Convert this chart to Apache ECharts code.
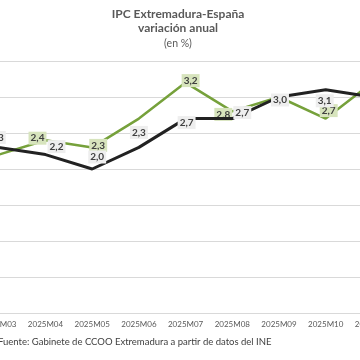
<!DOCTYPE html>
<html>
<head>
<meta charset="utf-8">
<script src="https://cdn.jsdelivr.net/npm/echarts@6/dist/echarts.min.js"></script>
<style>
html,body{margin:0;padding:0;background:#fff;}
#wrap{position:relative;width:360px;height:360px;overflow:hidden;background:#fff;}
#chart{position:absolute;left:-40px;top:0;width:500px;height:360px;}
</style>
</head>
<body>
<div id="wrap"><div id="chart"></div></div>
<script>
// Data
const categories = ['2025M03','2025M04','2025M05','2025M06','2025M07','2025M08','2025M09','2025M10','2025M11'];
const espana      = [2.3, 2.2, 2.0, 2.3, 2.7, 2.7, 3.0, 3.1, 3.0];
const extremadura = [2.2, 2.4, 2.3, 2.7, 3.2, 2.8, 3.0, 2.7, 3.2];
const yTicks = [0, 0.5, 1, 1.5, 2, 2.5, 3, 3.5];

// label styling (offsets per point, in px; null = no label)
const espanaLabelOffsets = [[-2,-10],[11,-8],[5,-12],[0,-15],[1,4],[10,-6],[1,3],[-1,11],[0,-10]];
const extLabelOffsets    = [null,[-8,-2],[6,-2],null,[5,-2],[-9,3],null,[3,-8],[0,-2]];

const OFF = 40;           // chart div shifted left by this many px
const STEP = 46.7;        // category width
const firstCenter = -1.2; // visible x of first category
const gridLeft = OFF + firstCenter - STEP/2;

function fmt(v){ return v.toFixed(1).replace('.', ','); }

function buildData(vals, offsets){
  return vals.map((v,i)=>{
    const o = offsets[i];
    return {
      value: v,
      label: o ? {show:true, offset:o} : {show:false}
    };
  });
}

const labelBase = {
  show: true,
  position: 'inside',
  formatter: p => fmt(p.value),
  fontFamily: 'Lato',
  fontSize: 10,
  fontWeight: 'bold',
  color: '#404040',
  padding: [2,2,1,2]
};

const chart = echarts.init(document.getElementById('chart'), null, {renderer:'canvas'});
chart.setOption({
  animation: false,
  backgroundColor: '#fff',
  grid: {left: gridLeft, top: 61, width: STEP*categories.length, height: 252, containLabel: false},
  xAxis: {
    type: 'category',
    data: categories,
    boundaryGap: true,
    axisLine: {show: true, lineStyle: {color: '#d9d9d9', width: 1}},
    axisTick: {show: false},
    axisLabel: {color: '#595959', fontFamily: 'Lato', fontSize: 8, margin: 7, interval: 0}
  },
  yAxis: {
    type: 'value',
    min: yTicks[0],
    max: yTicks[yTicks.length-1],
    interval: 0.5,
    axisLabel: {show: false},
    axisLine: {show: false},
    axisTick: {show: false},
    splitLine: {lineStyle: {color: '#d9d9d9', width: 1}}
  },
  graphic: [
    {type:'text', x: 178 + OFF, y: 14, style:{text:'IPC Extremadura-España', fill:'#595959', font:'bold 12px Lato', textAlign:'center', textVerticalAlign:'middle'}},
    {type:'text', x: 178 + OFF, y: 28, style:{text:'variación anual', fill:'#595959', font:'bold 12px Lato', textAlign:'center', textVerticalAlign:'middle'}},
    {type:'text', x: 178 + OFF, y: 44, style:{text:'(en %)', fill:'#595959', font:'10.5px Lato', textAlign:'center', textVerticalAlign:'middle'}},
    {type:'text', x: OFF - 2, y: 342, style:{text:'Fuente: Gabinete de CCOO Extremadura a partir de datos del INE', fill:'#404040', font:'9.5px Lato', textAlign:'left', textVerticalAlign:'middle'}}
  ],
  series: [
    {
      name: 'Extremadura',
      type: 'line',
      data: buildData(extremadura, extLabelOffsets),
      symbol: 'circle',
      symbolSize: 1,
      lineStyle: {color: '#76a13b', width: 2.5},
      itemStyle: {color: '#76a13b'},
      label: Object.assign({}, labelBase, {backgroundColor: '#d7e4bd'}),
      z: 2
    },
    {
      name: 'España',
      type: 'line',
      data: buildData(espana, espanaLabelOffsets),
      symbol: 'circle',
      symbolSize: 1,
      lineStyle: {color: '#222222', width: 3},
      itemStyle: {color: '#222222'},
      label: Object.assign({}, labelBase, {backgroundColor: '#eeeeee'}),
      z: 3
    }
  ]
});
</script>
</body>
</html>
